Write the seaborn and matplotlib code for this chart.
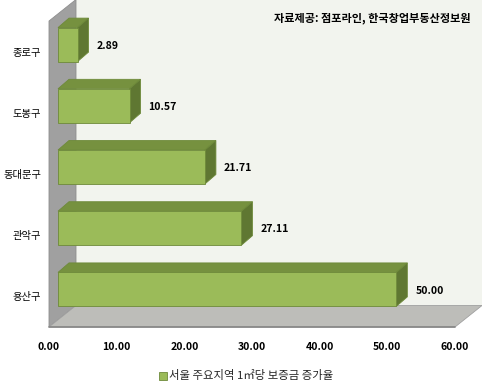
import matplotlib
matplotlib.use('Agg')
import matplotlib.pyplot as plt
from matplotlib.patches import Polygon
from matplotlib.ticker import FormatStrFormatter
import seaborn as sns
import numpy as np

# data
districts = ['종로구', '도봉구', '동대문구', '관악구', '용산구']
increase = [2.89, 10.57, 21.71, 27.11, 50.00]
x_ticks = [0, 10, 20, 30, 40, 50, 60]
series_name = '서울 주요지역 1㎡당 보증금 증가율'
source_note = '자료제공: 점포라인, 한국창업부동산정보원'

sns.set_theme(style='white')
plt.rcParams['font.family'] = ['Noto Sans CJK KR', 'DejaVu Sans']

W, H = 482, 386
fig = plt.figure(figsize=(W / 100, H / 100), dpi=100)
fig.patch.set_facecolor('white')
# the axes frame is the front plane of the 3d box
ax = fig.add_axes([49 / W, 1 - 327 / H, 406 / W, 306 / H])
ax.set_facecolor('none')

front = '#9BBB59'
top_c = '#76913F'
side_c = '#5F7732'
edge_c = '#6E8A3A'

sns.barplot(x=increase, y=districts, orient='h', color=front, width=0.555,
            saturation=1, linewidth=0.6, edgecolor=edge_c, ax=ax,
            label=series_name, zorder=5)

ax.set_xlim(0, 60)
ax.set_ylim(4.5, -0.5)

# pixel -> data unit helpers
px_x = 60 / 406
px_y = 1 / 61.2

# box walls (back offset 27px right, 21.5px up)
bx, by = 27 * px_x, -21.5 * px_y
back = Polygon([(bx, -0.5 + by), (60 + bx + 5, -0.5 + by), (60 + bx + 5, 4.5 + by),
                (bx, 4.5 + by)], closed=True, facecolor='#F2F4EE', edgecolor='none',
               zorder=0, clip_on=False)
left = Polygon([(0, -0.5), (bx, -0.5 + by), (bx, 4.5 + by), (0, 4.5)], closed=True,
               facecolor='#A0A0A0', edgecolor='#8E8E8E', lw=0.6, zorder=1, clip_on=False)
floor = Polygon([(0, 4.5), (60, 4.5), (60 + bx, 4.5 + by), (bx, 4.5 + by)], closed=True,
                facecolor='#BDBDB9', edgecolor='#A0A0A0', lw=0.6, zorder=1, clip_on=False)
for p in (back, left, floor):
    ax.add_patch(p)
ax.plot([0, 60], [4.5, 4.5], color='#858585', lw=1.2, zorder=2, clip_on=False)

# push bars half way back into the box, then add top and side faces
sx, sy = 9 * px_x, -7 * px_y
dx, dy = 11 * px_x, -9.5 * px_y
bars = [p for p in ax.patches if p not in (back, left, floor)]
for bar, val in zip(bars, increase):
    bar.set_x(bar.get_x() + sx)
    bar.set_y(bar.get_y() + sy)
    x0, y0 = bar.get_x(), bar.get_y()
    x1, y1 = x0 + bar.get_width(), y0 + bar.get_height()
    top = Polygon([(x0, y0), (x1, y0), (x1 + dx, y0 + dy), (x0 + dx, y0 + dy)],
                  closed=True, facecolor=top_c, edgecolor=edge_c, lw=0.6, zorder=4,
                  clip_on=False)
    side = Polygon([(x1, y0), (x1 + dx, y0 + dy), (x1 + dx, y1 + dy), (x1, y1)],
                   closed=True, facecolor=side_c, edgecolor=edge_c, lw=0.6, zorder=4,
                   clip_on=False)
    ax.add_patch(top)
    ax.add_patch(side)
    ax.text(x1 + 19 * px_x, (y0 + y1) / 2 + 0.02, f'{val:.2f}', ha='left', va='center',
            fontsize=7.6, fontweight='bold', color='black', zorder=6)

ax.set_xticks(x_ticks)
ax.xaxis.set_major_formatter(FormatStrFormatter('%.2f'))
ax.tick_params(axis='x', length=0, pad=11, labelsize=7.6, colors='black')
ax.tick_params(axis='y', length=0, pad=5.5, labelsize=7.4, colors='black')
for lbl in ax.get_xticklabels():
    lbl.set_fontweight('bold')
for lbl in ax.get_yticklabels():
    lbl.set_fontweight('medium')
ax.set_xlabel('')
ax.set_ylabel('')
for s in ax.spines.values():
    s.set_visible(False)
ax.grid(False)

leg = ax.legend(loc='center', bbox_to_anchor=(246 / W, 10 / H),
                bbox_transform=fig.transFigure, frameon=False, fontsize=8.2,
                handlelength=0.7, handleheight=0.7, handletextpad=0.15,
                borderpad=0, borderaxespad=0)

fig.text(471 / W, 1 - 18 / H, source_note, ha='right', va='center', fontsize=8,
         fontweight='bold', color='black')

fig.savefig('out.png', dpi=100, facecolor='white')
